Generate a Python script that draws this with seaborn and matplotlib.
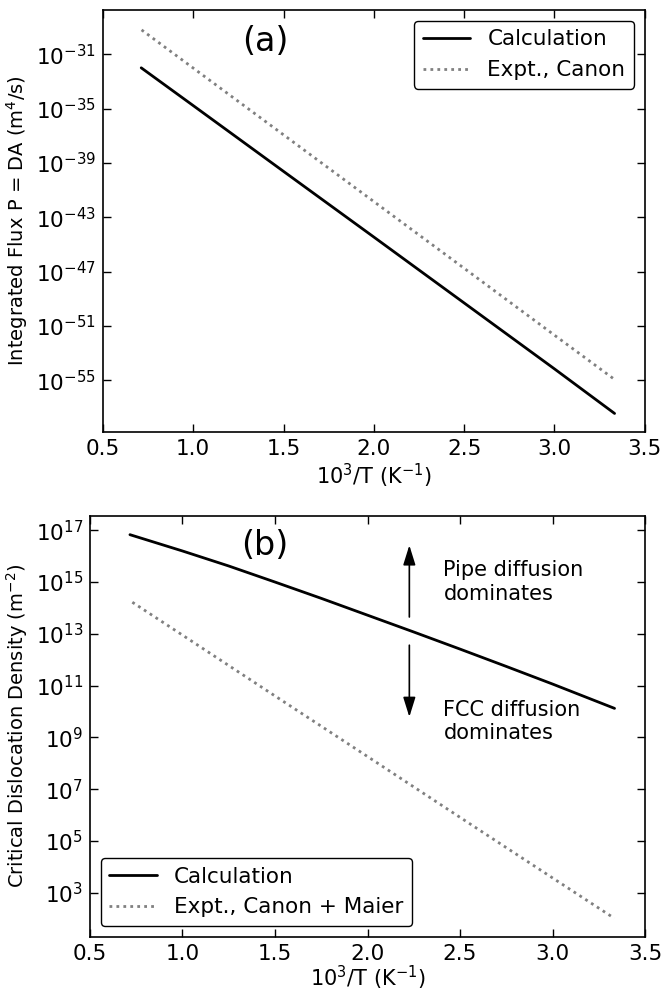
import numpy as np
import pandas as pd
import seaborn as sns
import matplotlib
matplotlib.use("Agg")
import matplotlib.pyplot as plt

# values (x = 1000/T, y = log10 of the quantity)
flux_calc_x = [0.712, 1.0, 1.5, 2.0, 2.5, 3.0, 3.333]
flux_calc_logy = [-32.0, -34.78, -39.62, -44.45, -49.3, -54.15, -57.43]
flux_expt_x = [0.714, 1.0, 1.5, 2.0, 2.5, 3.0, 3.333]
flux_expt_logy = [-29.21, -32.02, -36.93, -41.84, -46.75, -51.67, -54.93]

dens_calc_x = [0.716, 1.0, 1.25, 1.5, 1.75, 2.0, 2.25, 2.5, 2.75, 3.0, 3.335]
dens_calc_logy = [16.83, 16.2, 15.62, 15.0, 14.37, 13.72, 13.07, 12.41, 11.74, 11.06, 10.12]
dens_expt_x = [0.729, 1.0, 1.5, 2.0, 2.5, 3.0, 3.334]
dens_expt_logy = [14.22, 12.95, 10.6, 8.26, 5.91, 3.57, 2.01]

flux_yticks = [-31, -35, -39, -43, -47, -51, -55]
dens_yticks = [17, 15, 13, 11, 9, 7, 5, 3]
xticks = [0.5, 1.0, 1.5, 2.0, 2.5, 3.0, 3.5]

sns.set_style("ticks", {"xtick.direction": "in", "ytick.direction": "in",
                        "axes.edgecolor": "black", "text.color": "black",
                        "axes.labelcolor": "black", "xtick.color": "black",
                        "ytick.color": "black"})
plt.rcParams["font.family"] = ["DejaVu Sans"]
plt.rcParams["font.size"] = 15

fig = plt.figure(figsize=(6.64, 9.91), dpi=100)
ax1 = fig.add_axes([0.155, 0.564, 0.816, 0.426])
ax2 = fig.add_axes([0.1355, 0.0548, 0.836, 0.425])

def frame(label, x, logy):
    return pd.DataFrame({"x": x, "y": np.power(10.0, logy), "series": label})

top = pd.concat([frame("Calculation", flux_calc_x, flux_calc_logy),
                 frame("Expt., Canon", flux_expt_x, flux_expt_logy)])
bot = pd.concat([frame("Calculation", dens_calc_x, dens_calc_logy),
                 frame("Expt., Canon + Maier", dens_expt_x, dens_expt_logy)])

for ax, df in [(ax1, top), (ax2, bot)]:
    names = df["series"].unique()
    sns.lineplot(data=df, x="x", y="y", hue="series", style="series",
                 palette={names[0]: "black", names[1]: "#808080"},
                 dashes={names[0]: "", names[1]: (1, 1.5)},
                 linewidth=2, ax=ax, sort=False)
    ax.set_yscale("log")
    ax.set_xlim(0.5, 3.5)
    ax.set_xticks(xticks)
    ax.set_xticklabels([f"{t:.1f}" for t in xticks])
    ax.minorticks_off()
    ax.tick_params(which="both", top=True, right=True, direction="in",
                   length=6, width=1, labelsize=15.5, pad=5)
    for s in ax.spines.values():
        s.set_linewidth(1.2)

ax1.set_xlabel("10$^3$/T (K$^{-1}$)", fontsize=15, labelpad=2)
ax2.set_xlabel("10$^3$/T (K$^{-1}$)", fontsize=15, labelpad=0)

ax1.set_yticks([10.0 ** t for t in flux_yticks])
ax1.set_ylim(10.0 ** -58.8, 10.0 ** -27.74)
ax1.minorticks_off()
ax1.set_ylabel("Integrated Flux P = DA (m$^4$/s)", fontsize=14)
ax1.legend(loc="upper right", fontsize=15.5, handlelength=2.2, borderaxespad=0.5,
           framealpha=1, edgecolor="black", fancybox=True)
ax1.text(0.30, 0.925, "(a)", transform=ax1.transAxes, fontsize=24,
         ha="center", va="center")

ax2.set_yticks([10.0 ** t for t in dens_yticks])
ax2.set_ylim(10.0 ** 1.3, 10.0 ** 17.57)
ax2.minorticks_off()
ax2.set_ylabel("Critical Dislocation Density (m$^{-2}$)", fontsize=14)
ax2.legend(loc="lower left", fontsize=15.5, handlelength=2.2, borderaxespad=0.5,
           framealpha=1, edgecolor="black", fancybox=True)
ax2.text(0.315, 0.93, "(b)", transform=ax2.transAxes, fontsize=24,
         ha="center", va="center")

# arrows marking the regimes
arrow = dict(arrowstyle="-|>,head_length=0.8,head_width=0.25", color="black",
             lw=1.2, mutation_scale=15, shrinkA=0, shrinkB=0)
ax2.annotate("", xy=(2.226, 10 ** 16.42), xytext=(2.226, 10 ** 13.65), arrowprops=arrow)
ax2.annotate("", xy=(2.226, 10 ** 9.79), xytext=(2.226, 10 ** 12.56), arrowprops=arrow)
ax2.text(2.41, 10 ** 15.0, "Pipe diffusion\ndominates", fontsize=15, va="center", ha="left")
ax2.text(2.41, 10 ** 9.6, "FCC diffusion\ndominates", fontsize=15, va="center", ha="left")

fig.savefig("out.png", dpi=100)
